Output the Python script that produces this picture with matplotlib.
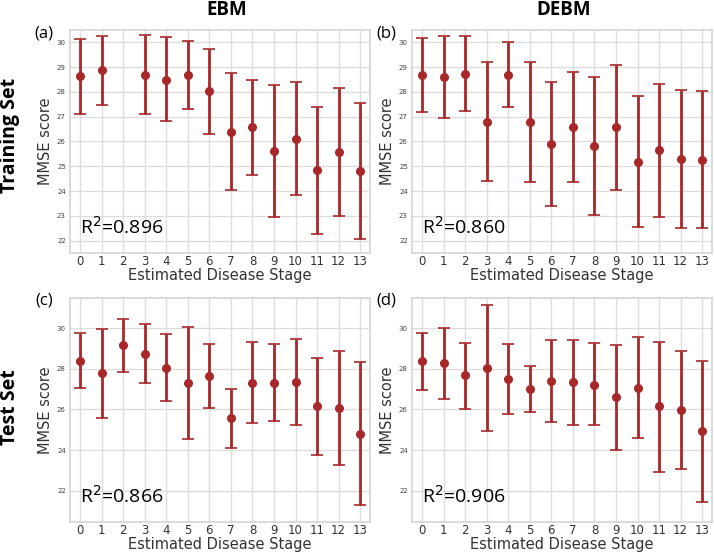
import numpy as np
import matplotlib
matplotlib.use("Agg")
import matplotlib.pyplot as plt

stages = np.arange(14)

# (a) EBM, training set (stage 2 has no subjects)
a_mean = [28.65, 28.87, np.nan, 28.68, 28.50, 28.68, 28.02, 26.39, 26.58, 25.60, 26.11, 24.85, 25.58, 24.81]
a_up = [30.15, 30.24, np.nan, 30.28, 30.20, 30.05, 29.73, 28.76, 28.50, 28.26, 28.40, 27.41, 28.14, 27.55]
a_lo = [27.12, 27.47, np.nan, 27.12, 26.83, 27.31, 26.30, 24.03, 24.63, 22.94, 23.85, 22.28, 23.00, 22.05]

# (b) DEBM, training set
b_mean = [28.67, 28.60, 28.73, 26.79, 28.69, 26.77, 25.90, 26.57, 25.80, 26.57, 25.18, 25.64, 25.30, 25.26]
b_up = [30.16, 30.27, 30.27, 29.20, 30.03, 29.19, 28.41, 28.79, 28.60, 29.08, 27.85, 28.30, 28.07, 28.03]
b_lo = [27.19, 26.94, 27.23, 24.40, 27.39, 24.38, 23.39, 24.36, 23.04, 24.03, 22.53, 22.96, 22.50, 22.50]

# (c) EBM, test set
c_mean = [28.39, 27.78, 29.18, 28.75, 28.04, 27.32, 27.65, 25.57, 27.32, 27.32, 27.37, 26.15, 26.05, 24.80]
c_up = [29.77, 29.97, 30.48, 30.20, 29.70, 30.08, 29.24, 27.02, 29.31, 29.24, 29.49, 28.52, 28.86, 28.32]
c_lo = [27.04, 25.60, 27.86, 27.32, 26.43, 24.53, 26.05, 24.12, 25.31, 25.41, 25.21, 23.76, 23.25, 21.31]

# (d) DEBM, test set
d_mean = [28.37, 28.30, 27.68, 28.04, 27.50, 27.00, 27.40, 27.33, 27.23, 26.61, 27.07, 26.15, 25.95, 24.95]
d_up = [29.77, 30.03, 29.29, 31.14, 29.23, 28.12, 29.41, 29.41, 29.26, 29.19, 29.56, 29.34, 28.86, 28.40]
d_lo = [26.95, 26.54, 26.03, 24.96, 25.77, 25.87, 25.39, 25.24, 25.21, 24.02, 24.58, 22.94, 23.05, 21.46]

r2 = ["0.896", "0.860", "0.866", "0.906"]
tags = ["(a)", "(b)", "(c)", "(d)"]

red = "#a8282a"
cap = "#c9706f"

fig = plt.figure(figsize=(7.14, 5.52), dpi=100)

boxes = [[0.098, 0.5417, 0.42, 0.404],
         [0.577, 0.5417, 0.42, 0.404],
         [0.098, 0.0543, 0.42, 0.406],
         [0.577, 0.0543, 0.42, 0.406]]
data = [(a_mean, a_up, a_lo), (b_mean, b_up, b_lo), (c_mean, c_up, c_lo), (d_mean, d_up, d_lo)]

for i, (box, (m, up, lo)) in enumerate(zip(boxes, data)):
    ax = fig.add_axes(box)
    m = np.array(m)
    err = [m - np.array(lo), np.array(up) - m]
    _, caps, _ = ax.errorbar(stages, m, yerr=err, fmt='o', color=red, ecolor=red,
                             markersize=5.5, elinewidth=2, capsize=4, capthick=1.2, zorder=3)
    for c in caps:
        c.set_color(cap)
    ax.set_xlim(-0.47, 13.45)
    if i < 2:
        ax.set_ylim(21.5, 30.5)
        ax.set_yticks(range(22, 31))
    else:
        ax.set_ylim(20.45, 31.5)
        ax.set_yticks(range(22, 31, 2))
    ax.set_xticks(stages)
    ax.grid(True, color="#dddddd", linewidth=1)
    ax.set_axisbelow(True)
    for s in ax.spines.values():
        s.set_color("#d4d4d4")
        s.set_linewidth(1.2)
    ax.tick_params(axis='y', labelsize=5, colors="#444444", length=0, pad=3)
    ax.tick_params(axis='x', labelsize=8.5, colors="#333333", length=0, pad=1.5)
    ax.set_xlabel("Estimated Disease Stage", fontsize=10.5, color="#333333", labelpad=0)
    ax.set_ylabel("MMSE score", fontsize=10.5, color="#333333", labelpad=3)
    ax.text(0.035, 0.085, "R$^2$=" + r2[i], transform=ax.transAxes, fontsize=14,
            family="Open Sans", color="black")
    fig.text(box[0] - 0.036, box[1] + box[3] + 0.009, tags[i], fontsize=12,
             family="Open Sans", ha="center", va="top")

fig.text(0.317, 0.981, "EBM", fontsize=13.5, fontweight="bold", family="Open Sans",
         ha="center", va="center")
fig.text(0.789, 0.981, "DEBM", fontsize=13.5, fontweight="bold", family="Open Sans",
         ha="center", va="center")
fig.text(0.014, 0.755, "Training Set", fontsize=14, fontweight="bold", family="Open Sans",
         rotation=90, ha="center", va="center")
fig.text(0.014, 0.262, "Test Set", fontsize=14, fontweight="bold", family="Open Sans",
         rotation=90, ha="center", va="center")

fig.savefig("out.png", dpi=100)
